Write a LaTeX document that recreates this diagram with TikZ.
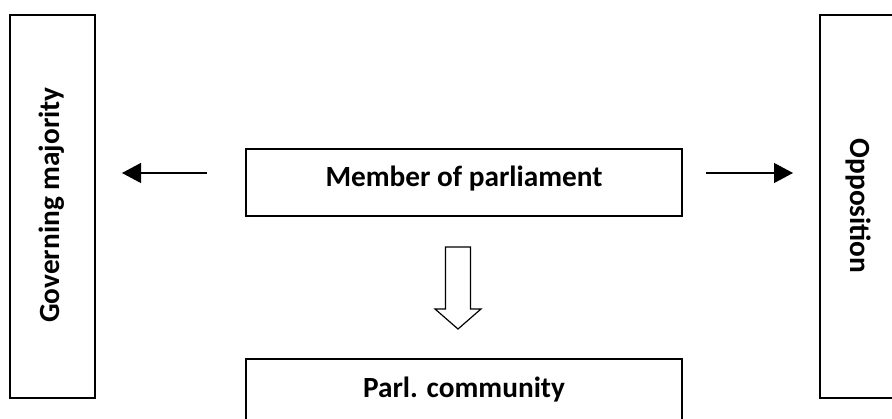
\documentclass[tikz,border=0pt]{standalone}
\usepackage{fontspec}
\setmainfont{Carlito}
\usetikzlibrary{arrows.meta,calc}
\begin{document}
\begin{tikzpicture}[x=1pt,y=1pt,
  box/.style={draw=black, line width=1.5pt, fill=white},
  lbl/.style={font=\fontsize{29.3}{31}\selectfont\bfseries, inner sep=0pt},
  conn/.style={line width=1.2pt, -{Triangle[length=19pt,width=20pt]}}]
\useasboundingbox (0,0) rectangle (892,418);
\clip (0,0) rectangle (892,418);
\fill[white] (0,0) rectangle (892,418);
% boxes
\draw[box] (10,20) rectangle (95,403);
\draw[box] (820,20) rectangle (905,403);
\draw[box] (246,202) rectangle (682,269);
\draw[box] (246,-10) rectangle (682,59);
% labels
\node[lbl, rotate=90, anchor=base] (gov) at (60,213) {Governing majority};
\node[lbl, rotate=-90, anchor=base] (opp) at (850,212) {Opposition};
\node[lbl, anchor=base] (mp) at (464,231) {Member of parliament};
\node[lbl, anchor=base] (pc) at (464,21) {Parl. community};
% arrows
\coordinate (la) at (207,245);
\coordinate (lb) at (122,245);
\coordinate (ra) at (706,245);
\coordinate (rb) at (793,245);
\draw[conn] (la) -- (lb);
\draw[conn] (ra) -- (rb);
% hollow down arrow
\coordinate (dtop) at (458,171);
\draw[line width=1.2pt, fill=white, line join=miter]
  ($(dtop)+(-12.5,0)$) -- ($(dtop)+(12.5,0)$) -- ($(dtop)+(12.5,-62)$) -- ($(dtop)+(23,-62)$)
  -- ($(dtop)+(0,-82)$) -- ($(dtop)+(-23,-62)$) -- ($(dtop)+(-12.5,-62)$) -- cycle;
\end{tikzpicture}
\end{document}
